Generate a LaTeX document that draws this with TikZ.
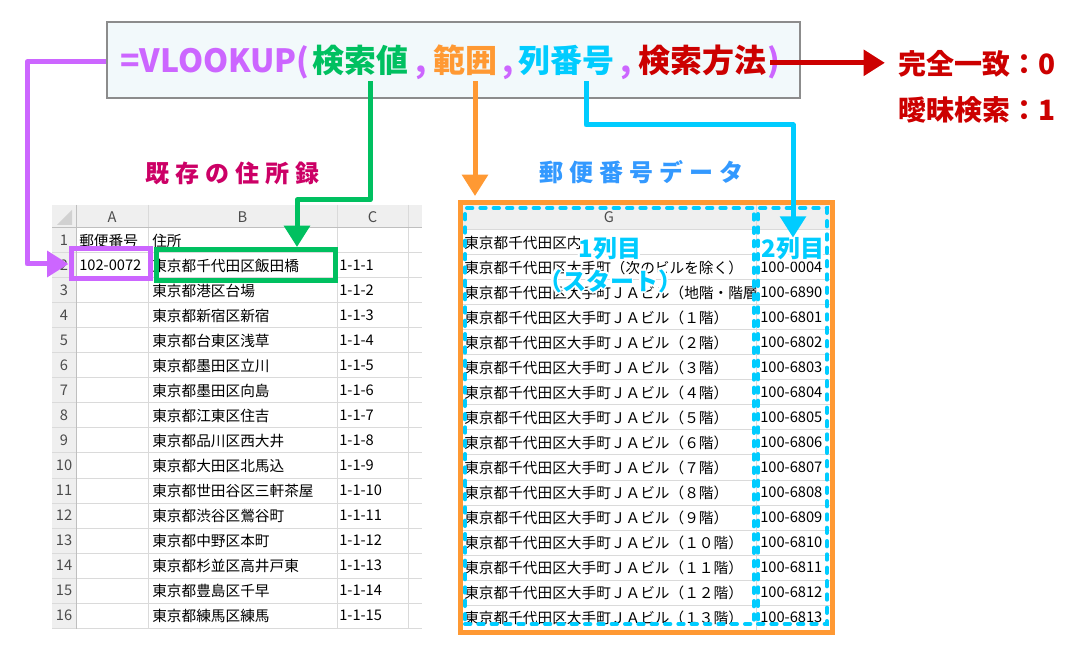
\documentclass[tikz,border=0pt]{standalone}
\usepackage{fontspec}
\setmainfont{Noto Sans CJK JP}
\newfontfamily\ttlfont[LetterSpace=25]{Noto Sans CJK JP}
\usepackage{contour}
\contourlength{1.4pt}
\usepackage{tikz}
\usetikzlibrary{positioning,arrows.meta,calc,fit}
\definecolor{vlpurple}{HTML}{CC66FF}
\definecolor{vlgreen}{HTML}{00C060}
\definecolor{vlorange}{HTML}{FF9933}
\definecolor{vlcyan}{HTML}{00CCFF}
\definecolor{vlred}{HTML}{CC0000}
\definecolor{ttlmagenta}{HTML}{CC0066}
\definecolor{ttlblue}{HTML}{3399FF}
\definecolor{gridgray}{HTML}{DADADA}
\definecolor{hdrgray}{HTML}{EFEFEF}
\definecolor{boxfill}{HTML}{F2F9FB}
\tikzset{
    every node/.style={font=\fontsize{11pt}{13pt}\selectfont},
    ftext/.style={font=\fontsize{24pt}{28pt}\selectfont\bfseries,inner sep=0pt,anchor=base},
    ttl/.style={font=\fontsize{18pt}{22pt}\ttlfont\bfseries,inner sep=0pt},
    side/.style={font=\fontsize{21pt}{25pt}\selectfont\bfseries,text=vlred,inner sep=0pt,anchor=base},
    colmark/.style={font=\fontsize{18pt}{22pt}\selectfont\bfseries,text=vlcyan,inner sep=0pt},
    cell/.style={anchor=west,inner sep=0pt,text=black},
    hdr/.style={inner sep=0pt,text=black!70},
    grid/.style={draw=gridgray,line width=0.75pt},
    hilite/.style={draw,line width=3.75pt,inner sep=0pt},
    dashbox/.style={draw=vlcyan,line width=3pt,dash pattern=on 4pt off 6pt,line cap=round,inner sep=0pt},
    link/.style={line width=3.75pt,line join=round,-{Triangle[length=16pt,width=19pt]}}
}
\begin{document}
\begin{tikzpicture}[x=0.75pt,y=-0.75pt]
\useasboundingbox (0,0) rectangle (1088,655);

% formula
\node[fit={(107,22) (800,98)},inner sep=0pt,draw=black!45,line width=1pt,fill=boxfill] (fbox) {};
\node[ftext,text=vlpurple] (vl) at (215,73) {=VLOOKUP(};
\node[ftext,text=vlgreen] (kv) at (360,73) {検索値};
\node[ftext,text=vlpurple] (c1) at (421,73) {,};
\node[ftext,text=vlorange] (rng) at (465,73) {範囲};
\node[ftext,text=vlpurple] (c2) at (508,73) {,};
\node[ftext,text=vlcyan] (col) at (566,73) {列番号};
\node[ftext,text=vlpurple] (c3) at (626,73) {,};
\node[ftext,text=vlred] (mth) at (702,73) {検索方法};
\node[ftext,text=vlpurple] (rp) at (774,73) {)};

\node[side] (kanzen) at (977,75) {完全一致：0};
\node[side] (aimai) at (977,121) {曖昧検索：1};

% titles
\node[ttl,text=ttlmagenta] (ttlbook) at (232,173) {既存の住所録};
\node[ttl,text=ttlblue] (ttlzip) at (641,172) {郵便番号データ};

% address book
\fill[hdrgray] (52,205) rectangle (422,228);
\fill[hdrgray] (52,228) rectangle (76,629);
\foreach \k in {0,...,16}
    \draw[grid] (52,{228+25*\k}) -- (422,{228+25*\k});
\foreach \x in {76,148,337,408}
    \draw[grid] (\x,205) -- (\x,629);
\draw[black!25,line width=0.75pt] (76,205) -- (76,629);
\draw[black!25,line width=0.75pt] (52,228) -- (422,228);
\fill[black!18] (72,210) -- (72,225) -- (57,225) -- cycle;
\node[hdr] (ca) at (112,217) {A};
\node[hdr] (cb) at (242.5,217) {B};
\node[hdr] (cc) at (372.5,217) {C};
\foreach \r in {1,...,16}
    \node[hdr] (rn\r) at (64,{240.5+25*(\r-1)}) {\r};
\node[cell] (a1) at (79,240.5) {郵便番号};
\node[cell] (b1) at (152,240.5) {住所};
\node[cell] (a2) at (79,265.5) {102-0072};
\foreach \r/\addr/\no in {2/東京都千代田区飯田橋/1-1-1, 3/東京都港区台場/1-1-2,
    4/東京都新宿区新宿/1-1-3, 5/東京都台東区浅草/1-1-4, 6/東京都墨田区立川/1-1-5,
    7/東京都墨田区向島/1-1-6, 8/東京都江東区住吉/1-1-7, 9/東京都品川区西大井/1-1-8,
    10/東京都大田区北馬込/1-1-9, 11/東京都世田谷区三軒茶屋/1-1-10,
    12/東京都渋谷区鶯谷町/1-1-11, 13/東京都中野区本町/1-1-12,
    14/東京都杉並区高井戸東/1-1-13, 15/東京都豊島区千早/1-1-14, 16/東京都練馬区練馬/1-1-15}{
    \node[cell] (b\r) at (152,{240.5+25*(\r-1)}) {\addr};
    \node[cell] (c\r) at (339,{240.5+25*(\r-1)}) {\no};
}
\node[fit={(71,249) (150,279)},hilite,draw=vlpurple] (a2box) {};
\node[fit={(156.5,249.5) (335.5,280.5)},hilite,draw=vlgreen] (b2box) {};

% zip data
\fill[hdrgray] (463,205) rectangle (830,230);
\foreach \k in {0,...,16}
    \draw[grid] (463,{230+25*\k}) -- (830,{230+25*\k});
\draw[grid] (756,205) -- (756,630);
\node[hdr] (cg) at (609,217.5) {G};
\begin{scope}
\clip (463,230) rectangle (755,630);
\node[cell] (g1) at (464,242.5) {東京都千代田区内};
\node[cell] (g2) at (464,267.5) {東京都千代田区大手町（次のビルを除く）};
\node[cell] (g3) at (464,292.5) {東京都千代田区大手町ＪＡビル（地階・階層不明）};
\foreach \r/\fl in {4/１, 5/２, 6/３, 7/４, 8/５, 9/６, 10/７, 11/８, 12/９,
    13/１０, 14/１１, 15/１２, 16/１３}
    \node[cell] (g\r) at (464,{242.5+25*(\r-1)}) {東京都千代田区大手町ＪＡビル（\fl 階）};
\end{scope}
\node[cell] (h2) at (760,267.5) {100-0004};
\node[cell] (h3) at (760,292.5) {100-6890};
\foreach \r/\no in {4/6801, 5/6802, 6/6803, 7/6804, 8/6805, 9/6806, 10/6807,
    11/6808, 12/6809, 13/6810, 14/6811, 15/6812, 16/6813}
    \node[cell] (h\r) at (760,{242.5+25*(\r-1)}) {100-\no};
\node[fit={(460.5,202.5) (832.5,632)},hilite,draw=vlorange] (zipframe) {};
\node[fit={(465,208) (754,624)},dashbox] (col1box) {};
\node[fit={(758,208) (827,624)},dashbox] (col2box) {};
\node[colmark] (lbl1) at (610,250) {\contour{white}{1列目}};
\node[colmark] (lblstart) at (610,282) {\contour{white}{（スタート）}};
\node[colmark] (lbl2) at (793,250) {\contour{white}{2列目}};

% connectors
\coordinate (pbend) at (27,62);
\draw[link,vlpurple] (fbox.west |- pbend) -- (pbend) |- (a2box.west);
\coordinate (gstart) at ($(kv.south)+(10,5)$);
\coordinate (gbend) at (297,200);
\draw[link,vlgreen] (gstart) |- (gbend) -- (gbend |- b2box.north);
\coordinate (ostart) at ($(rng.south)+(10,5)$);
\draw[link,vlorange,shorten >=3pt] (ostart) -- (ostart |- zipframe.north);
\coordinate (cstart) at ($(col.south)+(20,5)$);
\coordinate (cbend) at (793,125);
\draw[link,vlcyan] (cstart) |- (cbend) -- (cbend |- lbl2.north);
\draw[link,vlred,shorten >=10pt] ($(rp.center)+(-4,0)$) -- (rp.center -| kanzen.west);
\end{tikzpicture}
\end{document}
